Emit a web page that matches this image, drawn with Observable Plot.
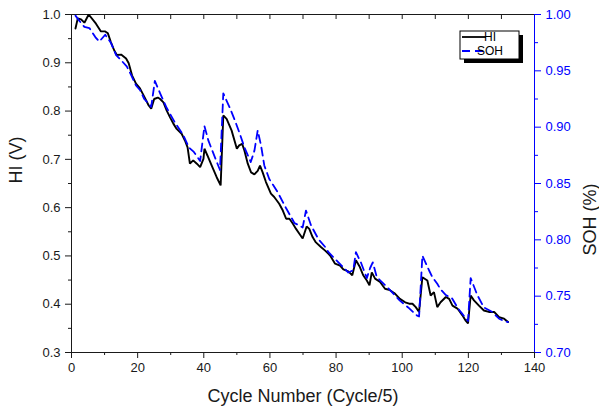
<!DOCTYPE html>
<html>
<head>
<meta charset="utf-8">
<script src="https://cdn.jsdelivr.net/npm/d3@7"></script>
<script src="https://cdn.jsdelivr.net/npm/@observablehq/plot@0.6"></script>
<style>
  body { margin: 0; background: #fff; }
  #chart svg { display: block; }
</style>
</head>
<body>
<div id="chart"></div>
<script>
// Health indicator (HI, volts) against cycle number
const hiCycle = [1.2,1.9,2.9,3.9,5.2,7.4,8.9,10.2,11.0,11.9,12.9,13.7,15.0,16.5,17.3,18.3,19.5,20.7,22.0,23.3,
  24.1,25.0,26.1,26.8,27.8,28.8,29.8,30.8,31.8,33.3,34.3,35.1,35.8,36.8,37.9,38.9,39.9,40.2,41.1,42.4,
  43.9,45.1,45.9,46.9,48.4,50.0,50.7,51.6,52.3,53.3,54.3,55.3,56.3,57.0,57.8,58.8,60.3,61.3,62.8,63.9,
  64.9,65.9,66.9,67.9,68.9,69.9,71.1,71.9,72.9,73.9,75.5,76.7,78.2,79.7,81.2,82.2,83.7,84.9,86.0,87.2,
  88.2,89.3,90.1,90.8,91.8,93.3,94.8,96.3,97.8,99.3,100.9,102.1,103.1,104.1,105.1,106.1,107.6,108.6,109.6,110.6,
  111.6,113.2,114.2,115.2,116.7,118.2,119.2,119.9,120.7,121.7,123.2,124.7,126.2,127.8,129.3,130.8,132.0];
const hiValue = [0.971,0.992,0.990,0.983,1.000,0.981,0.965,0.965,0.961,0.943,0.926,0.916,0.917,0.909,0.899,0.874,0.857,0.847,0.830,0.812,
  0.805,0.825,0.828,0.825,0.818,0.801,0.787,0.774,0.763,0.753,0.739,0.725,0.691,0.698,0.691,0.684,0.701,0.722,0.708,0.687,
  0.663,0.646,0.791,0.784,0.760,0.722,0.729,0.732,0.718,0.691,0.673,0.669,0.676,0.687,0.673,0.653,0.629,0.622,0.608,0.594,
  0.577,0.577,0.567,0.556,0.546,0.536,0.561,0.556,0.539,0.528,0.518,0.511,0.501,0.484,0.480,0.472,0.468,0.460,0.491,0.477,
  0.460,0.449,0.439,0.466,0.453,0.446,0.432,0.429,0.422,0.411,0.404,0.401,0.401,0.394,0.384,0.456,0.449,0.418,0.425,0.394,
  0.404,0.415,0.411,0.397,0.391,0.377,0.366,0.360,0.418,0.408,0.397,0.387,0.384,0.384,0.373,0.370,0.363];

// State of health (SOH) against cycle number
const sohCycle = [1.2,2.2,3.9,5.4,7.2,8.4,10.2,11.9,13.5,14.5,16.7,17.9,19.5,20.7,22.0,23.3,24.1,25.2,26.8,28.8,
  31.3,33.8,35.5,37.0,38.9,40.2,41.4,43.4,44.9,45.9,47.9,49.4,50.9,52.3,54.2,55.3,56.3,57.3,58.3,59.8,
  62.4,64.9,67.4,69.9,70.9,72.4,74.4,75.1,76.9,77.7,80.7,83.7,85.2,86.0,87.5,89.3,90.3,91.1,92.3,95.8,
  99.3,101.8,104.4,105.1,106.1,108.1,109.1,110.6,111.6,113.2,115.1,116.7,117.7,119.9,120.7,121.9,122.7,124.7,127.2,129.3,
  130.8,132.0];
const sohValue = [0.999,0.995,0.989,0.988,0.980,0.976,0.982,0.975,0.964,0.961,0.954,0.947,0.937,0.933,0.925,0.921,0.918,0.941,0.930,0.917,
  0.904,0.893,0.882,0.878,0.870,0.901,0.888,0.873,0.862,0.930,0.917,0.906,0.894,0.882,0.869,0.879,0.897,0.884,0.866,0.854,
  0.842,0.828,0.815,0.811,0.826,0.813,0.802,0.799,0.793,0.789,0.780,0.771,0.773,0.789,0.780,0.766,0.775,0.780,0.767,0.757,
  0.746,0.740,0.733,0.732,0.786,0.773,0.767,0.761,0.756,0.751,0.748,0.740,0.736,0.728,0.766,0.757,0.751,0.740,0.736,0.730,
  0.728,0.727];

// Axis ticks
const xTicks = [0, 20, 40, 60, 80, 100, 120, 140];
const xMinorTicks = [10, 30, 50, 70, 90, 110, 130];
const xTopTicks = [10, 20, 30, 40, 50, 60, 70, 80, 90, 100, 110, 120, 130];
const hiTicks = [0.3, 0.4, 0.5, 0.6, 0.7, 0.8, 0.9, 1.0];
const hiMinorTicks = [0.35, 0.45, 0.55, 0.65, 0.75, 0.85, 0.95];
const sohTicks = [0.70, 0.75, 0.80, 0.85, 0.90, 0.95, 1.00];
const sohMinorTicks = [0.725, 0.775, 0.825, 0.875, 0.925, 0.975];

const hiDomain = [0.3, 1.0];
const sohDomain = [0.70, 1.00];

// The SOH axis shares the plot's vertical extent: map SOH onto the HI scale
const toHI = s => hiDomain[0] + (s - sohDomain[0]) * (hiDomain[1] - hiDomain[0]) / (sohDomain[1] - sohDomain[0]);
const fromHI = h => sohDomain[0] + (h - hiDomain[0]) * (sohDomain[1] - sohDomain[0]) / (hiDomain[1] - hiDomain[0]);

const hiData = hiCycle.map((c, i) => ({cycle: c, hi: hiValue[i]}));
const sohData = sohCycle.map((c, i) => ({cycle: c, soh: sohValue[i]}));

const BLUE = "#0000ff";
const INK = "#1a1a1a";
const noLabel = () => "";

const plot = Plot.plot({
  width: 599,
  height: 416,
  marginLeft: 71,
  marginRight: 65,
  marginTop: 14,
  marginBottom: 64,
  style: {fontFamily: "'Liberation Sans', Arial, sans-serif", fontSize: "13px", background: "#fff", color: INK, overflow: "visible"},
  x: {domain: [0, 140]},
  y: {domain: hiDomain},
  marks: [
    // bottom axis
    Plot.axisX(xTicks, {anchor: "bottom", tickSize: 6, tickPadding: 4, tickFormat: d => String(d), label: null, fontSize: 13}),
    Plot.axisX(xMinorTicks, {anchor: "bottom", tickSize: 3, tickFormat: noLabel, label: null}),
    // top inward ticks
    Plot.ruleX(xTopTicks, {x: d => d, insetBottom: 333, stroke: INK}),
    // left HI axis
    Plot.axisY(hiTicks, {anchor: "left", tickSize: 6, tickPadding: 5, tickFormat: d3.format(".1f"), label: null, fontSize: 13}),
    Plot.axisY(hiMinorTicks, {anchor: "left", tickSize: 3, tickFormat: noLabel, label: null}),
    // right SOH axis
    Plot.axisY(sohTicks.map(toHI), {anchor: "right", tickSize: 6, tickPadding: 5, tickFormat: d => fromHI(d).toFixed(2),
      label: null, fontSize: 13, color: BLUE, stroke: BLUE, fill: BLUE}),
    Plot.axisY(sohMinorTicks.map(toHI), {anchor: "right", tickSize: 3, tickFormat: noLabel, label: null, color: BLUE, stroke: BLUE}),
    // frame
    Plot.ruleY([hiDomain[1]], {stroke: INK}),
    Plot.ruleY([hiDomain[0]], {stroke: INK}),
    Plot.ruleX([0], {stroke: INK}),
    Plot.ruleX([140], {stroke: BLUE}),
    // series
    Plot.line(hiData, {x: "cycle", y: "hi", stroke: "#000", strokeWidth: 1.9, strokeLinejoin: "miter"}),
    Plot.line(sohData, {x: "cycle", y: d => toHI(d.soh), stroke: BLUE, strokeWidth: 1.8, strokeDasharray: "8,5"}),
    // axis titles
    Plot.text(["HI (V)"], {frameAnchor: "left", dx: -55, rotate: -90, fontSize: 18, fill: INK}),
    Plot.text(["SOH (%)"], {frameAnchor: "right", dx: 56, rotate: -90, fontSize: 18, fill: INK}),
    Plot.text(["Cycle Number (Cycle/5)"], {frameAnchor: "bottom", dy: 49, fontSize: 18, fill: INK})
  ]
});

// Legend box with drop shadow in the upper-right corner of the frame
const svg = d3.select(plot);
const lg = svg.append("g").attr("transform", "translate(460,31)")
  .attr("font-family", "'Liberation Sans', Arial, sans-serif");
lg.append("rect").attr("x", 4).attr("y", 4).attr("width", 59).attr("height", 28).attr("fill", "#000");
lg.append("rect").attr("x", 0).attr("y", 0).attr("width", 59).attr("height", 28).attr("fill", "#fff").attr("stroke", "#000").attr("stroke-width", 1);
lg.append("line").attr("x1", 2).attr("x2", 26).attr("y1", 6).attr("y2", 6).attr("stroke", "#000").attr("stroke-width", 1.8);
lg.append("text").attr("x", 30).attr("y", 6).attr("dy", "0.35em").attr("font-size", 12).attr("fill", "#000").text("HI");
lg.append("line").attr("x1", 2).attr("x2", 26).attr("y1", 20).attr("y2", 20).attr("stroke", BLUE).attr("stroke-width", 1.8).attr("stroke-dasharray", "8,5");
lg.append("text").attr("x", 30).attr("y", 20).attr("dy", "0.35em").attr("font-size", 12).attr("fill", "#000").text("SOH");

document.getElementById("chart").appendChild(plot);
</script>
</body>
</html>
